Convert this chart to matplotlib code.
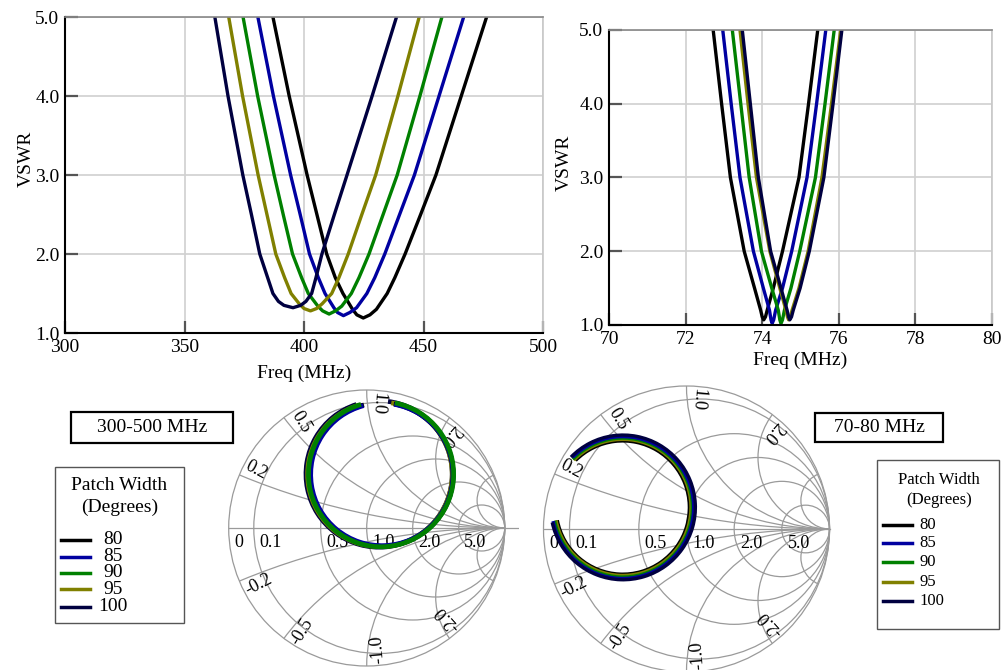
import numpy as np
import matplotlib
matplotlib.use('Agg')
import matplotlib.pyplot as plt
from matplotlib.patches import Arc, Circle, Rectangle
from matplotlib.ticker import FormatStrFormatter

plt.rcParams['font.family'] = 'serif'
plt.rcParams['font.serif'] = ['Liberation Serif', 'DejaVu Serif']

widths = ['80', '85', '90', '95', '100']
colors = ['#000000', '#0000a0', '#008000', '#808000', '#000040']

# ---- VSWR 300-500 MHz ----
lo_f80 = [387.0, 393.8, 401.3, 405.4, 409.5, 413.1, 416.3, 420.3, 422.1, 424.8,
          427.6, 430.3, 434.8, 438.0, 442.3, 448.8, 455.2, 465.8, 476.4]
lo_v80 = [5.0, 4.0, 3.0, 2.5, 2.0, 1.7, 1.5, 1.3, 1.23, 1.19,
          1.23, 1.3, 1.5, 1.7, 2.0, 2.5, 3.0, 4.0, 5.0]
lo_f85 = [380.7, 387.2, 394.4, 398.4, 402.3, 406.0, 408.8, 412.5, 414.0, 416.5,
          419.2, 422.0, 426.3, 429.6, 433.8, 440.0, 446.2, 456.5, 466.8]
lo_v85 = [5.0, 4.0, 3.0, 2.5, 2.0, 1.7, 1.5, 1.32, 1.26, 1.22,
          1.26, 1.32, 1.5, 1.7, 2.0, 2.5, 3.0, 4.0, 5.0]
lo_f90 = [374.5, 380.6, 387.5, 391.3, 395.2, 399.0, 401.8, 405.8, 407.8, 410.5,
          413.2, 415.8, 419.8, 423.0, 427.2, 433.1, 439.0, 448.5, 457.7]
lo_v90 = [5.0, 4.0, 3.0, 2.5, 2.0, 1.7, 1.5, 1.34, 1.28, 1.24,
          1.28, 1.34, 1.5, 1.7, 2.0, 2.5, 3.0, 4.0, 5.0]
lo_f95 = [368.5, 374.3, 380.8, 384.5, 388.2, 391.9, 394.6, 398.0, 400.0, 402.7,
          405.3, 407.6, 411.6, 414.6, 418.5, 424.2, 430.0, 439.3, 448.2]
lo_v95 = [5.0, 4.0, 3.0, 2.5, 2.0, 1.7, 1.5, 1.37, 1.31, 1.28,
          1.31, 1.37, 1.5, 1.7, 2.0, 2.5, 3.0, 4.0, 5.0]
lo_f100 = [362.7, 368.2, 374.4, 378.0, 381.5, 384.8, 387.0, 389.3, 391.6, 395.4,
           398.6, 400.8, 403.2, 405.0, 407.5, 412.7, 418.0, 428.5, 438.7]
lo_v100 = [5.0, 4.0, 3.0, 2.5, 2.0, 1.7, 1.5, 1.4, 1.35, 1.32,
           1.35, 1.4, 1.5, 1.7, 2.0, 2.5, 3.0, 4.0, 5.0]

# ---- VSWR 70-80 MHz ----
hi_f80 = [72.72, 72.94, 73.17, 73.53, 73.80, 73.96, 74.00, 74.04, 74.085, 74.13, 74.29, 74.53, 74.96, 75.21, 75.45]
hi_v80 = [5.0, 4.0, 3.0, 2.0, 1.5, 1.2, 1.11, 1.07, 1.11, 1.2, 1.5, 2.0, 3.0, 4.0, 5.0]
hi_f85 = [72.97, 73.19, 73.42, 73.77, 74.03, 74.19, 74.23, 74.26, 74.30, 74.35, 74.53, 74.77, 75.17, 75.42, 75.66]
hi_v85 = [5.0, 4.0, 3.0, 2.0, 1.5, 1.2, 1.07, 1.02, 1.07, 1.2, 1.5, 2.0, 3.0, 4.0, 5.0]
hi_f90 = [73.22, 73.44, 73.66, 73.98, 74.25, 74.42, 74.46, 74.49, 74.53, 74.58, 74.75, 74.98, 75.39, 75.64, 75.88]
hi_v90 = [5.0, 4.0, 3.0, 2.0, 1.5, 1.2, 1.07, 1.02, 1.07, 1.2, 1.5, 2.0, 3.0, 4.0, 5.0]
hi_f95 = [73.42, 73.63, 73.85, 74.20, 74.46, 74.62, 74.66, 74.69, 74.735, 74.78, 74.96, 75.20, 75.56, 75.81, 76.05]
hi_v95 = [5.0, 4.0, 3.0, 2.0, 1.5, 1.2, 1.11, 1.07, 1.11, 1.2, 1.5, 2.0, 3.0, 4.0, 5.0]
hi_f100 = [73.48, 73.69, 73.90, 74.22, 74.49, 74.65, 74.69, 74.72, 74.765, 74.81, 74.99, 75.23, 75.61, 75.85, 76.08]
hi_v100 = [5.0, 4.0, 3.0, 2.0, 1.5, 1.2, 1.11, 1.07, 1.11, 1.2, 1.5, 2.0, 3.0, 4.0, 5.0]

# ---- Smith chart traces: circle centre (Re, Im of gamma), radius, start/end angle ----
lo_cre = [0.106, 0.110, 0.104, 0.096, 0.090]
lo_cim = [0.387, 0.388, 0.390, 0.389, 0.391]
lo_rad = [0.520, 0.516, 0.526, 0.524, 0.530]
lo_t1 = [104, 105, 106, 107, 108]
lo_t2 = [80, 80, 79, 81, 83]
lo_z = [3, 4, 5, 2, 1]

hi_cre = [-0.446, -0.446, -0.445, -0.445, -0.444]
hi_cim = [0.150, 0.150, 0.150, 0.151, 0.151]
hi_rad = [0.466, 0.496, 0.486, 0.476, 0.506]
hi_t1 = [191, 191, 191, 191, 192]
hi_t2 = [135, 135, 136, 136, 136]

r_circles = [0.1, 0.5, 1.0, 2.0, 5.0]
x_arcs = [0.2, 0.5, 1.0, 2.0, 5.0]
r_labels = ['0', '0.1', '0.5', '1.0', '2.0', '5.0']
x_labels = ['0.2', '0.5', '1.0', '2.0']

W, H = 1008, 670
fig = plt.figure(figsize=(W / 100, H / 100), dpi=100)


def px_axes(l, t, r, b):
    return fig.add_axes([l / W, 1 - b / H, (r - l) / W, (b - t) / H])


def vswr_axes(l, t, r, b, xlim, xticks, xlab_off, ylab_off):
    ax = px_axes(l, t, r, b)
    ax.set_xlim(*xlim)
    ax.set_ylim(1, 5)
    ax.set_xticks(xticks)
    ax.set_yticks([1, 2, 3, 4, 5])
    ax.yaxis.set_major_formatter(FormatStrFormatter('%.1f'))
    ax.grid(True, color='#d0d0d0', lw=1.2)
    ax.set_axisbelow(True)
    ax.tick_params(direction='in', length=9, width=1.6, color='#555555',
                   labelsize=14, pad=4)
    for s in ['left', 'bottom']:
        ax.spines[s].set_linewidth(1.5)
        ax.spines[s].set_color('black')
    ax.spines['top'].set_color('#888888')
    ax.spines['top'].set_linewidth(1.2)
    ax.spines['right'].set_color('#c8c8c8')
    ax.spines['right'].set_linewidth(1.2)
    ax.set_xlabel('Freq (MHz)', fontsize=14)
    ax.set_ylabel('VSWR', fontsize=14)
    ax.xaxis.set_label_coords(0.5, -xlab_off / (b - t))
    ax.yaxis.set_label_coords(-ylab_off / (r - l), 0.55)
    return ax


ax1 = vswr_axes(65, 17, 543, 333, (300, 500), [300, 350, 400, 450, 500], 32, 30)
lo_f = [lo_f80, lo_f85, lo_f90, lo_f95, lo_f100]
lo_v = [lo_v80, lo_v85, lo_v90, lo_v95, lo_v100]
for f, v, c in zip(lo_f, lo_v, colors):
    ax1.plot(f, v, color=c, lw=2.4, solid_joinstyle='round')

ax2 = vswr_axes(609, 30, 992, 325, (70, 80), [70, 72, 74, 76, 78, 80], 27, 36)
hi_f = [hi_f80, hi_f85, hi_f90, hi_f95, hi_f100]
hi_v = [hi_v80, hi_v85, hi_v90, hi_v95, hi_v100]
for f, v, c in zip(hi_f, hi_v, colors):
    ax2.plot(f, v, color=c, lw=2.4, solid_joinstyle='round')


def smith_axes(cx, cy, R, xline):
    s = 1.1 * R
    ax = px_axes(cx - s, cy - s, cx + s, cy + s)
    ax.set_xlim(-1.1, 1.1)
    ax.set_ylim(-1.1, 1.1)
    ax.axis('off')
    gc, gw = '#9a9a9a', 0.9
    unit = Circle((0, 0), 1.0, fill=False, ec=gc, lw=gw)
    ax.add_patch(unit)
    for r in r_circles:
        ax.add_patch(Circle((r / (1 + r), 0), 1 / (1 + r), fill=False, ec=gc, lw=gw))
    for x in x_arcs:
        for sgn in (1, -1):
            c = Circle((1, sgn / x), 1 / x, fill=False, ec=gc, lw=gw)
            ax.add_patch(c)
            c.set_clip_path(unit)
    ax.plot([-1, xline], [0, 0], color=gc, lw=gw)
    for r, lab in zip([0.0] + r_circles, r_labels):
        g = (r - 1) / (r + 1)
        ax.text(g + 0.04, -0.045, lab, ha='left', va='top', fontsize=13)
    for x, lab in zip(x_arcs, x_labels):
        a = 180 - 2 * np.degrees(np.arctan(x))
        for sgn, txt in ((1, lab), (-1, '-' + lab)):
            ang = sgn * (a - 5)
            ax.text(0.985 * np.cos(np.radians(ang)), 0.985 * np.sin(np.radians(ang)), txt,
                    rotation=ang + 180, rotation_mode='anchor',
                    ha='left', va='center', fontsize=13)
    return ax


sm1 = smith_axes(366.7, 528, 138, 1.1)
for i, c in enumerate(colors):
    sm1.add_patch(Arc((lo_cre[i], lo_cim[i]), 2 * lo_rad[i], 2 * lo_rad[i],
                      theta1=lo_t1[i], theta2=lo_t2[i], color=c, lw=3.4,
                      zorder=5 + lo_z[i]))

sm2 = smith_axes(686.5, 529, 143, 1.0)
order = np.argsort(hi_rad)
for k, i in enumerate(order):
    sm2.add_patch(Arc((hi_cre[i], hi_cim[i]), 2 * hi_rad[i], 2 * hi_rad[i],
                      theta1=hi_t1[i], theta2=hi_t2[i], color=colors[i], lw=2.4,
                      zorder=5 + k))

# ---- boxes and legends (figure pixel space) ----
ov = fig.add_axes([0, 0, 1, 1])
ov.set_xlim(0, W)
ov.set_ylim(H, 0)
ov.axis('off')

ov.add_patch(Rectangle((71, 412), 162, 31, fill=False, ec='black', lw=1.6))
ov.text(152, 428, '300-500 MHz', ha='center', va='center', fontsize=14)
ov.add_patch(Rectangle((815, 412.5), 128, 29.5, fill=False, ec='black', lw=1.6))
ov.text(879, 428, '70-80 MHz', ha='center', va='center', fontsize=14)

ov.add_patch(Rectangle((55, 467), 129, 156, fill=False, ec='#555555', lw=1.0))
ov.text(119.5, 485, 'Patch Width', ha='center', va='center', fontsize=14)
ov.text(119.5, 507, '(Degrees)', ha='center', va='center', fontsize=14)
for y, c, lab in zip([540, 556.7, 572.7, 589, 606.7], colors, widths):
    ov.plot([61, 90], [y, y], color=c, lw=2.5)
    ov.text(113, y, lab, ha='center', va='center', fontsize=14)

ov.add_patch(Rectangle((877, 460), 122, 169, fill=False, ec='#555555', lw=1.0))
ov.text(939, 480, 'Patch Width', ha='center', va='center', fontsize=12)
ov.text(939, 500, '(Degrees)', ha='center', va='center', fontsize=12)
for y, c, lab in zip([525, 543.3, 562.3, 581.7, 601], colors, widths):
    ov.plot([883, 912], [y, y], color=c, lw=2.5)
    ov.text(919, y, lab, ha='left', va='center', fontsize=12)

fig.savefig('out.png', dpi=100)
